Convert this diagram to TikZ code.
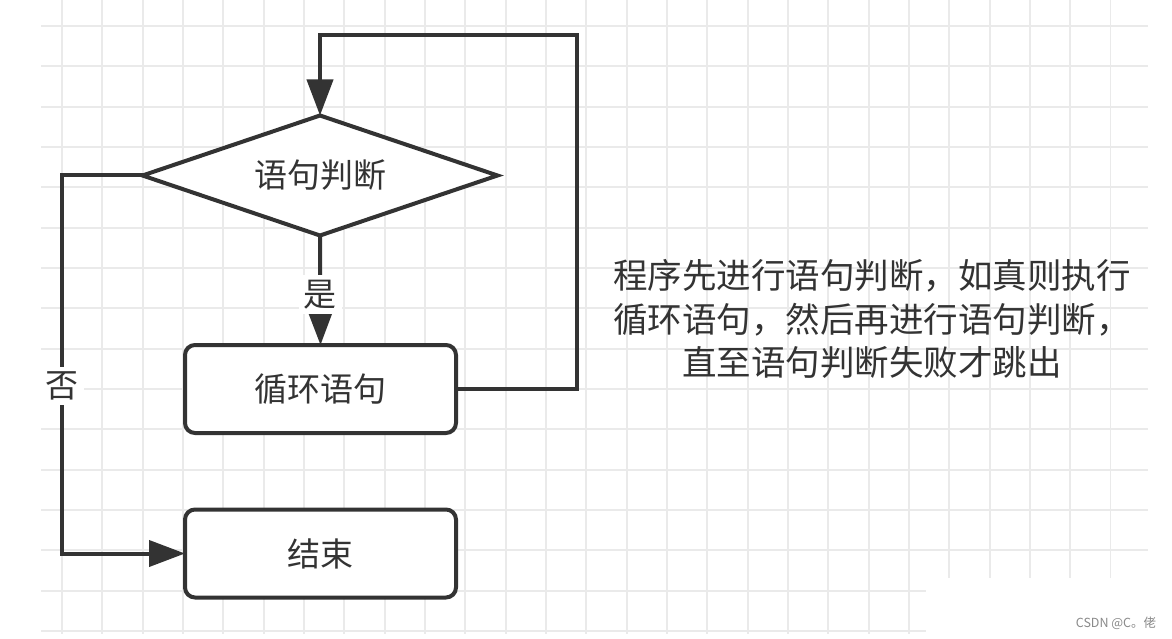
\documentclass[tikz,border=0pt]{standalone}
\usepackage{fontspec}
\newfontfamily\cjk{Noto Sans CJK SC}
\usetikzlibrary{shapes.geometric,arrows.meta}
\definecolor{ink}{HTML}{333333}
\definecolor{gridc}{HTML}{EAEAEA}
\definecolor{wm}{HTML}{8A8A8A}
\begin{document}
\begin{tikzpicture}[x=1pt,y=-1pt,
  gridline/.style={draw=gridc,line width=1.8pt},
  flow/.style={draw=ink,line width=4pt},
  arr/.style={flow,-{Triangle[length=36pt,width=26pt]}},
  txt/.style={text=ink,font=\cjk\fontsize{33}{40}\selectfont},
  decision/.style={diamond,shape aspect=2.96,flow,fill=white,inner sep=0pt,outer sep=0pt,minimum width=355pt,minimum height=120pt,txt},
  procbox/.style={rectangle,rounded corners=10pt,flow,fill=white,inner sep=0pt,outer sep=0pt,minimum width=271pt,minimum height=88pt,txt},
  lbl/.style={fill=white,inner sep=5pt,txt}
]
\useasboundingbox[fill=white] (0,0) rectangle (1172,639);
% grid
\foreach \k in {0,...,26}{\draw[gridline] ({62+40.33*\k},0) -- ({62+40.33*\k},634);}
\foreach \k in {0,...,15}{\draw[gridline] (41,{26+40.33*\k}) -- (1148,{26+40.33*\k});}
\fill[white] (926,578) rectangle (1172,639);
% nodes
\node[decision] (d) at (320,175.5) {语句判断};
\node[procbox] (r1) at (320.5,389) {循环语句};
\node[procbox] (r2) at (320.5,553.5) {结束};
\coordinate (lp) at (577,35);
\coordinate (nc) at (62,553.5);
% connectors
\draw[arr] (d.south) -- node[lbl,pos=0.54] (yes) {是} (r1.north);
\draw[arr] (r1.east) -| (lp) -| (d.north);
\draw[arr] (d.west) -| (nc) -- (r2.west);
\node[lbl] (no) at (62,386) {否};
% note
\node[txt,align=center,font=\cjk\fontsize{34.5}{43.5}\selectfont] (note) at (872,319)
  {程序先进行语句判断，如真则执行\\循环语句，然后再进行语句判断，\\直至语句判断失败才跳出};
% watermark
\node[text=wm,font=\cjk\fontsize{12.5}{14}\selectfont,inner sep=0pt] (wmk) at (1116,623) {CSDN @C。佬};
\end{tikzpicture}
\end{document}
